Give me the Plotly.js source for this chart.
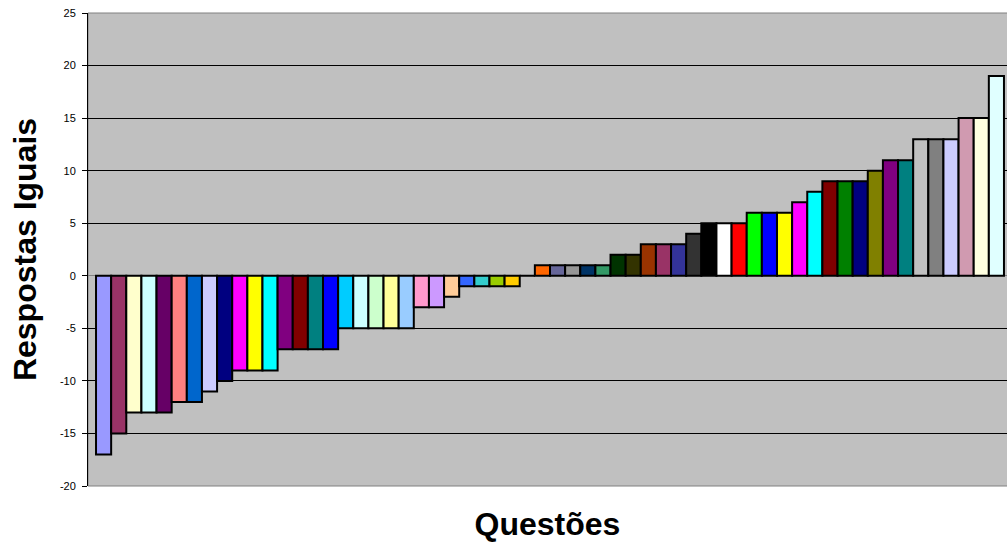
<!DOCTYPE html>
<html>
<head>
<meta charset="utf-8">
<script src="https://cdn.plot.ly/plotly-3.0.1.min.js"></script>
<style>
  html, body { margin: 0; padding: 0; background: #ffffff; overflow: hidden; }
  #chart { width: 1007px; height: 543px; }
</style>
</head>
<body>
<div id="chart"></div>
<script>
// Questions, sorted by the number of matching answers
const questions = [
  "Q1","Q2","Q3","Q4","Q5","Q6","Q7","Q8","Q9","Q10",
  "Q11","Q12","Q13","Q14","Q15","Q16","Q17","Q18","Q19","Q20",
  "Q21","Q22","Q23","Q24","Q25","Q26","Q27","Q28","Q29","Q30",
  "Q31","Q32","Q33","Q34","Q35","Q36","Q37","Q38","Q39","Q40",
  "Q41","Q42","Q43","Q44","Q45","Q46","Q47","Q48","Q49","Q50",
  "Q51","Q52","Q53","Q54","Q55","Q56","Q57","Q58","Q59","Q60"
];

const equalAnswers = [
  -17, -15, -13, -13, -13, -12, -12, -11, -10, -9,
  -9, -9, -7, -7, -7, -7, -5, -5, -5, -5,
  -5, -3, -3, -2, -1, -1, -1, -1, 0, 1,
  1, 1, 1, 1, 2, 2, 3, 3, 3, 4,
  5, 5, 5, 6, 6, 6, 7, 8, 9, 9,
  9, 10, 11, 11, 13, 13, 13, 15, 15, 19
];

const barColors = [
  "#9999FF","#993366","#FFFFCC","#CCFFFF","#660066","#FF8080","#0066CC","#CCCCFF","#000080","#FF00FF",
  "#FFFF00","#00FFFF","#800080","#800000","#008080","#0000FF","#00CCFF","#CCFFFF","#CCFFCC","#FFFF99",
  "#99CCFF","#FF99CC","#CC99FF","#FFCC99","#3366FF","#33CCCC","#99CC00","#FFCC00","#C0C0C0","#FF6600",
  "#666699","#969696","#003366","#339966","#003300","#333300","#993300","#993366","#333399","#333333",
  "#000000","#FFFFFF","#FF0000","#00FF00","#0000FF","#FFFF00","#FF00FF","#00FFFF","#800000","#008000",
  "#000080","#808000","#800080","#008080","#C0C0C0","#808080","#CCCCFF","#D09AB0","#FFFFE0","#E0FFFF"
];

const yTicks = [-20, -15, -10, -5, 0, 5, 10, 15, 20, 25];

const trace = {
  type: "bar",
  x: questions,
  y: equalAnswers,
  marker: {
    color: barColors,
    line: { color: "#000000", width: 2 }
  },
  width: 1,
  hoverinfo: "x+y"
};

const titleFont = { family: "Liberation Sans, Arial, sans-serif", size: 32, color: "#000000", weight: "bold" };

const layout = {
  width: 1007,
  height: 543,
  margin: { l: 88, r: 0, t: 13, b: 57, pad: 0 },
  paper_bgcolor: "#ffffff",
  plot_bgcolor: "#C0C0C0",
  font: { family: "Liberation Sans, Arial, sans-serif", color: "#000000" },
  bargap: 0,
  showlegend: false,
  xaxis: {
    type: "category",
    range: [-1.03, 59.7],
    showticklabels: false,
    ticks: "",
    showgrid: false,
    zeroline: false,
    showline: false,
    fixedrange: true,
    title: { text: "Questões", font: titleFont, standoff: 26 }
  },
  yaxis: {
    range: [-20, 25],
    tickvals: yTicks,
    ticktext: yTicks.map(String),
    tickfont: { family: "Liberation Sans, Arial, sans-serif", size: 11, color: "#000000" },
    ticks: "outside",
    ticklen: 5,
    tickwidth: 1,
    tickcolor: "#000000",
    ticklabelstandoff: 4,
    showline: true,
    linecolor: "#000000",
    linewidth: 1,
    showgrid: true,
    gridcolor: "#000000",
    gridwidth: 1,
    zeroline: true,
    zerolinecolor: "#808080",
    zerolinewidth: 1,
    fixedrange: true,
    title: { text: "Respostas Iguais", font: titleFont, standoff: 13 }
  },
  shapes: [
    {
      type: "rect", xref: "paper", yref: "paper",
      x0: 0, x1: 1.01, y0: 0, y1: 1,
      line: { color: "#808080", width: 1 },
      fillcolor: "rgba(0,0,0,0)",
      layer: "below"
    }
  ]
};

Plotly.newPlot("chart", [trace], layout, { displayModeBar: false, staticPlot: true });
</script>
</body>
</html>
